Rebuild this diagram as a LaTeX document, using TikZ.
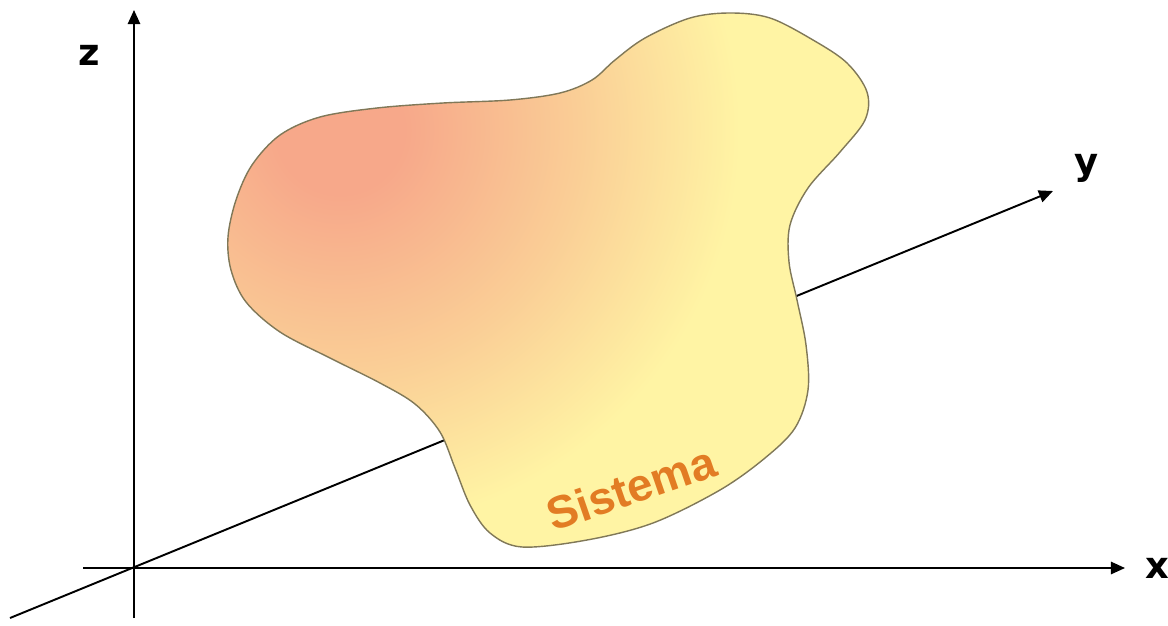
\documentclass[tikz,border=0pt]{standalone}
\usepackage{fontspec}
\usepackage{xcolor}
\usepackage{tikz}
\usetikzlibrary{arrows.meta}
\newfontfamily\axisfont{DejaVu Sans}
\newfontfamily\wordfont{Liberation Sans}
\definecolor{blobhot}{RGB}{247,168,138}
\definecolor{blobwarm}{RGB}{250,206,150}
\definecolor{blobpale}{RGB}{255,244,164}
\definecolor{blobedge}{RGB}{128,120,88}
\definecolor{wordc}{RGB}{226,124,36}
\pgfdeclareradialshading{blobshade}{\pgfpoint{0bp}{0bp}}{%
  color(0bp)=(blobhot); color(2bp)=(blobhot); color(7.5bp)=(blobwarm);
  color(12.5bp)=(blobpale); color(50bp)=(blobpale)}

% outline of the system, in pixel units of the figure
\def\blobpath{plot[smooth cycle, tension=0.55] coordinates {
  (228,237) (236,200) (252,165) (280,135) (320,117) (377,108) (443,103)
  (510,100) (560,93) (592,80) (615,60) (645,38) (690,18) (730,13)
  (770,18) (813,40) (847,63) (867,92) (865,120) (840,152) (808,188)
  (790,225) (789,262) (797,300) (806,345) (808,390) (795,428) (765,458)
  (720,490) (653,523) (587,540) (522,547) (490,533) (470,505) (455,468)
  (440,432) (415,404) (380,383) (330,358) (280,332) (246,302) (231,270)}}

\begin{document}
\begin{tikzpicture}[x=0.02cm, y=-0.02cm,
  axis/.style={line width=1.1pt, -{Triangle[length=8pt, width=7pt]}},
  axislab/.style={font=\axisfont\fontsize{21pt}{21pt}\selectfont\bfseries},
  wordart/.style={font=\wordfont\fontsize{26pt}{26pt}\selectfont\bfseries, text=wordc},
]
\useasboundingbox (0,0) rectangle (1168,625);

%% ── axes end points ──────────────────────────────────────────────
\coordinate (O) at (134,568);
\coordinate (xs) at (83,568);    \coordinate (xe) at (1125,568);
\coordinate (zs) at (134,618);   \coordinate (ze) at (134,10);
\coordinate (ys) at (10,618);    \coordinate (ye) at (1053,191);

%% ── y axis runs behind the system ───────────────────────────────
\draw[axis] (ys) -- (ye);

%% ── the system: shaded blob ─────────────────────────────────────
\begin{scope}
  \clip \blobpath;
  \shade[shading=blobshade] (340,130) circle (800);
\end{scope}
\draw[blobedge, line width=0.8pt] \blobpath;
\node[wordart, rotate=19] (sis) at (631,488) {Sistema};

%% ── x and z axes ────────────────────────────────────────────────
\draw[axis] (xs) -- (xe);
\draw[axis] (zs) -- (ze);

%% ── axis labels ─────────────────────────────────────────────────
\node[axislab] (zlab) at (89,55) {z};
\node[axislab] (ylab) at (1087,168) {y};
\node[axislab] (xlab) at (1157,568) {x};

\end{tikzpicture}
\end{document}
